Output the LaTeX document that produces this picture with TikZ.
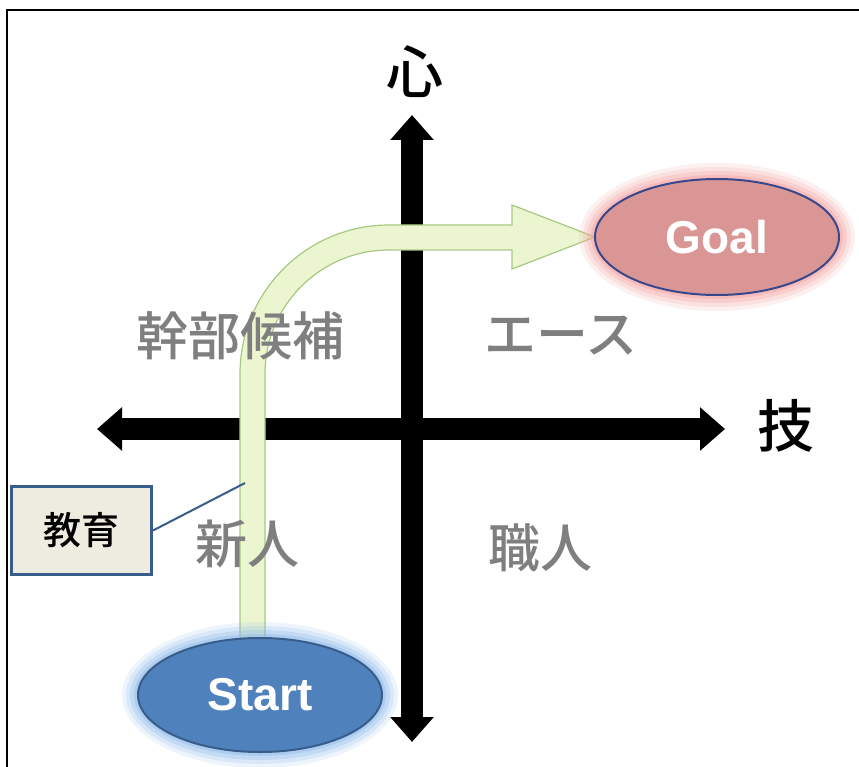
\documentclass[tikz,border=0pt]{standalone}
\usepackage{fontspec}
\newfontfamily\jpfont{Noto Sans CJK JP}[BoldFont={Noto Sans CJK JP Medium}]
\setsansfont{Liberation Sans}
\usetikzlibrary{arrows.meta,shapes.geometric}

\definecolor{barfill}{RGB}{235,246,208}
\definecolor{barline}{RGB}{168,200,128}
\definecolor{startblue}{RGB}{79,129,189}
\definecolor{startglow}{RGB}{140,185,235}
\definecolor{ovalline}{RGB}{56,93,138}
\definecolor{goalred}{RGB}{217,150,148}
\definecolor{goalglow}{RGB}{245,160,160}
\definecolor{goalline}{RGB}{55,72,140}
\definecolor{boxfill}{RGB}{238,236,225}
\definecolor{quadgray}{RGB}{127,127,127}

\tikzset{
  axis/.style={line width=22pt,{Triangle[width=42pt,length=25pt]}-{Triangle[width=42pt,length=25pt]}},
  quad/.style={text=quadgray,font=\jpfont\bfseries\fontsize{52}{52}\selectfont,inner sep=0pt},
  axlabel/.style={font=\jpfont\bfseries\fontsize{57}{57}\selectfont,inner sep=0pt},
  oval/.style={ellipse,minimum width=244pt,minimum height=114pt,line width=2pt,text=white,
    font=\sffamily\bfseries\fontsize{46}{46}\selectfont,inner sep=0pt},
}

\begin{document}
\begin{tikzpicture}[x=1pt,y=-1pt]
\useasboundingbox (0,0) rectangle (859,767);
\fill[white] (0,0) rectangle (859,767);

% frame
\draw[line width=2.5pt] (7,767) -- (7,10) -- (859,10);

% axes
\coordinate (left) at (97,429);
\coordinate (right) at (725,429);
\coordinate (top) at (412,115);
\coordinate (bottom) at (412,742);
\draw[axis] (left) -- (right);
\draw[axis] (bottom) -- (top);

\node[axlabel] (kokoro) at (415,72) {心};
\node[axlabel] (waza) at (786,426) {技};

% path from start to goal
\draw[barline,fill=barfill,line width=1.2pt,line join=miter]
  (240,650) -- (240,374) arc[start angle=180,end angle=90,radius=149pt]
  -- (512,225) -- (512,205) -- (595,237) -- (512,269) -- (512,250) -- (389,250)
  arc[start angle=90,end angle=180,radius=124pt] -- (265,650);

% quadrants
\node[quad] (kanbu) at (240,336) {幹部候補};
\node[quad] (ace) at (561,336) {エース};
\node[quad] (shinjin) at (247,544) {新人};
\node[quad] (shokunin) at (540,548) {職人};

% start / goal
\coordinate (startc) at (260,695);
\coordinate (goalc) at (717,237);
\foreach \d/\o in {16/0.15,12/0.2,8/0.28,4/0.4}
  \fill[startglow,opacity=\o] (startc) ellipse[x radius={(122+\d)*1pt},y radius={(57+\d)*1pt}];
\foreach \d/\o in {16/0.15,12/0.2,8/0.28,4/0.4}
  \fill[goalglow,opacity=\o] (goalc) ellipse[x radius={(122+\d)*1pt},y radius={(58+\d)*1pt}];
\node[oval,draw=ovalline,fill=startblue] (start) at (startc) {Start};
\node[oval,draw=goalline,fill=goalred,minimum height=116pt] (goal) at (goalc) {Goal};

% label box
\node[draw=ovalline,fill=boxfill,line width=3pt,minimum width=140pt,minimum height=88pt,
  font=\jpfont\bfseries\fontsize{38}{38}\selectfont] (edu) at (81.5,530.5) {教育};
\coordinate (edutip) at (245,483);
\draw[ovalline,line width=2pt] (edu.east) -- (edutip);
\end{tikzpicture}
\end{document}
